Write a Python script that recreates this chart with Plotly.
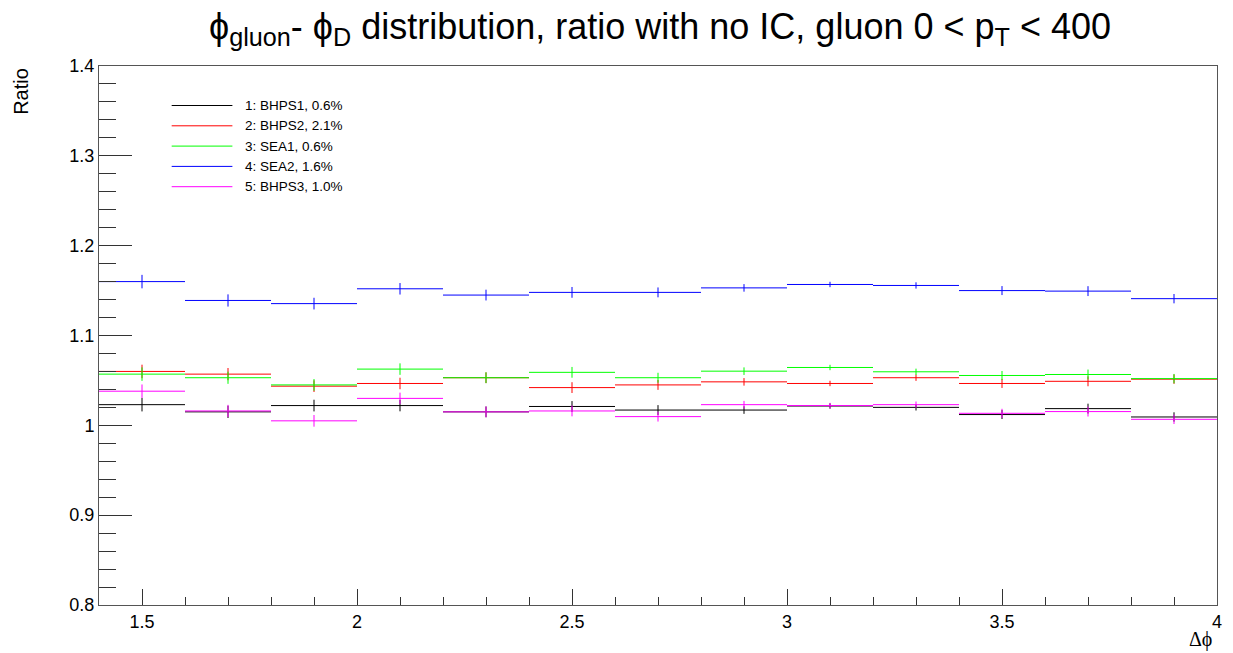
import plotly.graph_objects as go

# Bin layout: 13 bins of width 0.2 between 1.4 and 4.0
bin_lo = 1.4
bin_width = 0.2
n_bins = 13
bin_centers = [round(bin_lo + bin_width * (i + 0.5), 3) for i in range(n_bins)]

# Ratio values per sample
bhps1 = [1.023, 1.015, 1.022, 1.022, 1.015, 1.021, 1.017, 1.017, 1.0215, 1.020, 1.012, 1.0186, 1.0093]
bhps2 = [1.060, 1.057, 1.0436, 1.0466, 1.053, 1.042, 1.045, 1.0484, 1.0466, 1.053, 1.0466, 1.049, 1.0514]
sea1 = [1.057, 1.053, 1.045, 1.0626, 1.053, 1.059, 1.053, 1.0603, 1.0644, 1.0596, 1.0555, 1.0566, 1.052]
sea2 = [1.160, 1.139, 1.1355, 1.152, 1.145, 1.148, 1.148, 1.153, 1.1568, 1.1557, 1.150, 1.1494, 1.141]
bhps3 = [1.038, 1.016, 1.005, 1.030, 1.015, 1.016, 1.0097, 1.023, 1.022, 1.023, 1.0134, 1.0153, 1.0067]

# Statistical uncertainty per bin
stat_err = [0.0075, 0.0068, 0.0065, 0.0064, 0.006, 0.006, 0.0055, 0.0042, 0.003, 0.0035, 0.005, 0.0055, 0.0052]

series_names = ["1: BHPS1, 0.6%", "2: BHPS2, 2.1%", "3: SEA1, 0.6%", "4: SEA2, 1.6%", "5: BHPS3, 1.0%"]
series_values = [bhps1, bhps2, sea1, sea2, bhps3]
series_colors = ["#000000", "#ff0000", "#00ff00", "#0000ff", "#ff00ff"]

W, H = 1233, 653
L, R, T, B = 99, 11, 66, 48
plot_w = W - L - R
plot_h = H - T - B

fig = go.Figure()

for name, vals, col in zip(series_names, series_values, series_colors):
    fig.add_trace(go.Scatter(
        x=bin_centers, y=vals, mode="markers", name=name,
        marker=dict(size=1, color=col, opacity=0),
        error_x=dict(type="constant", value=bin_width / 2, color=col, thickness=1, width=0),
        error_y=dict(type="data", array=stat_err, color=col, thickness=1, width=0),
        showlegend=False,
    ))

# Legend drawn as line samples with labels
shapes = []
annotations = []
leg_x0, leg_x1, leg_tx = 172, 233, 244
leg_y0, leg_dy = 105.5, 20.3


def px_x(px):
    return (px - L) / plot_w


def px_y(py):
    return 1 - (py - T) / plot_h


for i, (name, col) in enumerate(zip(series_names, series_colors)):
    yy = leg_y0 + i * leg_dy
    shapes.append(dict(type="line", xref="paper", yref="paper",
                       x0=px_x(leg_x0), x1=px_x(leg_x1), y0=px_y(yy), y1=px_y(yy),
                       line=dict(color=col, width=1)))
    annotations.append(dict(xref="paper", yref="paper", x=px_x(leg_tx), y=px_y(yy),
                            xanchor="left", yanchor="middle", showarrow=False, text=name,
                            font=dict(family="Liberation Sans", size=13.5, color="#000000")))

# Axis titles
annotations.append(dict(xref="paper", yref="paper", x=px_x(20), y=px_y(66),
                        xanchor="center", yanchor="top", showarrow=False, text="Ratio",
                        textangle=-90,
                        font=dict(family="Liberation Sans", size=20, color="#000000")))
annotations.append(dict(xref="paper", yref="paper", x=px_x(1219), y=px_y(639),
                        xanchor="right", yanchor="middle", showarrow=False, text="Δϕ",
                        font=dict(family="Liberation Serif", size=20, color="#000000")))

fig.update_layout(
    width=W, height=H,
    margin=dict(l=L, r=R, t=T, b=B),
    paper_bgcolor="white", plot_bgcolor="white",
    title=dict(
        text="ϕ<sub>gluon</sub>- ϕ<sub>D</sub> distribution, ratio with no IC, gluon 0 &lt; p<sub>T</sub> &lt; 400",
        x=660 / W, xanchor="center", y=1 - 26 / H, yanchor="middle",
        font=dict(family="Liberation Sans", size=36, color="#000000"),
    ),
    shapes=shapes,
    annotations=annotations,
    showlegend=False,
)

fig.update_xaxes(
    range=[1.4, 4.0], tick0=0, dtick=0.5, ticks="inside", ticklen=16, tickcolor="#333333",
    minor=dict(ticks="inside", ticklen=8, dtick=0.1, tick0=0, tickcolor="#333333", showgrid=False),
    showgrid=False, zeroline=False, showline=True, mirror=True, linecolor="#555555", linewidth=1,
    tickfont=dict(family="Liberation Sans", size=18, color="#000000"),
)
fig.update_yaxes(
    range=[0.8, 1.4], tick0=0, dtick=0.1, ticks="inside", ticklen=33, tickcolor="#333333",
    minor=dict(ticks="inside", ticklen=17, dtick=0.02, tick0=0, tickcolor="#333333", showgrid=False),
    showgrid=False, zeroline=False, showline=True, mirror=True, linecolor="#555555", linewidth=1,
    tickfont=dict(family="Liberation Sans", size=18, color="#000000"),
)

fig.write_html("out.html")
